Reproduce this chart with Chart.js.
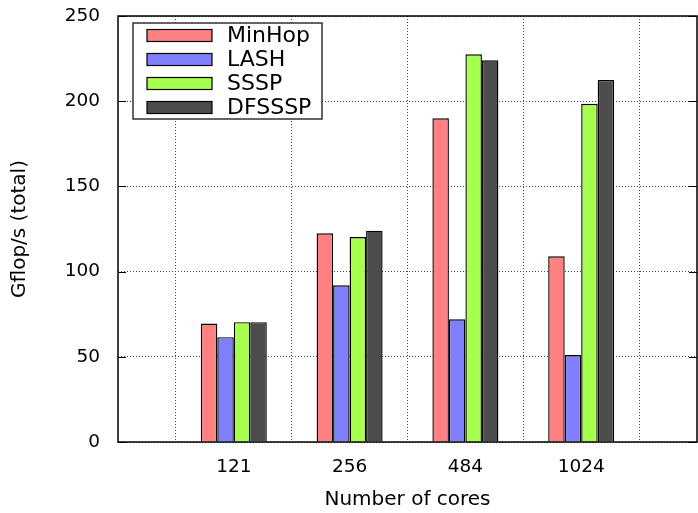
<!DOCTYPE html>
<html>
<head>
<meta charset="utf-8">
<title>Gflop/s by number of cores</title>
<script src="https://cdn.jsdelivr.net/npm/chart.js@4.4.0/dist/chart.umd.min.js"></script>
<style>
    html, body { margin: 0; padding: 0; background: #fff; }
    #wrap { width: 698px; height: 513px; }
</style>
</head>
<body>
<div id="wrap"><canvas id="chart" width="698" height="513"></canvas></div>
<script>
// Data
const cores = ['121', '256', '484', '1024'];
const seriesNames = ['MinHop', 'LASH', 'SSSP', 'DFSSSP'];
const minHop = [69.5, 122.5, 190, 109];
const lash = [61.5, 92, 72, 51];
const sssp = [70.3, 120.3, 227.5, 198.5];
const dfsssp = [70.3, 124, 224, 212.5];
const yTicks = [0, 50, 100, 150, 200, 250];

const colors = ['#ff8080', '#8080ff', '#a6ff4c', '#4d4d4d'];
const FONT = "'DejaVu Sans', sans-serif";

// empty slot on each side, like the gnuplot x range
const labels = [''].concat(cores, ['']);
const pad = arr => [null].concat(arr, [null]);

const datasets = [minHop, lash, sssp, dfsssp].map((vals, i) => ({
    label: seriesNames[i],
    data: pad(vals),
    backgroundColor: colors[i],
    borderColor: '#000',
    borderWidth: 1.4,
    barPercentage: 1,
    categoryPercentage: 0.57
}));

// Frame + inner tick marks
const framePlugin = {
    id: 'frame',
    afterDatasetsDraw(chart) {
        const { ctx, chartArea: a, scales } = chart;
        ctx.save();
        ctx.strokeStyle = '#000';
        ctx.lineWidth = 1.5;
        ctx.strokeRect(a.left, a.top, a.right - a.left, a.bottom - a.top);
        ctx.lineWidth = 1;
        yTicks.forEach(v => {
            const y = Math.round(scales.y.getPixelForValue(v)) + 0.5;
            ctx.beginPath();
            ctx.moveTo(a.left, y); ctx.lineTo(a.left + 8, y);
            ctx.moveTo(a.right, y); ctx.lineTo(a.right - 8, y);
            ctx.stroke();
        });
        ctx.restore();
    }
};

// Legend box inside the plot, top left
const legendPlugin = {
    id: 'boxLegend',
    afterDraw(chart) {
        const { ctx, chartArea: a } = chart;
        const x0 = a.left + 15, y0 = a.top + 7, w = 189, h = 96;
        ctx.save();
        ctx.fillStyle = '#fff';
        ctx.fillRect(x0, y0, w, h);
        ctx.strokeStyle = '#333';
        ctx.lineWidth = 1.5;
        ctx.strokeRect(x0, y0, w, h);
        ctx.font = '22px ' + FONT;
        ctx.textBaseline = 'middle';
        chart.data.datasets.forEach((ds, i) => {
            const cy = a.top + 19.5 + i * 24;
            ctx.fillStyle = ds.backgroundColor;
            ctx.fillRect(x0 + 14, cy - 6, 65, 12);
            ctx.strokeStyle = '#000';
            ctx.lineWidth = 1.2;
            ctx.strokeRect(x0 + 14, cy - 6, 65, 12);
            ctx.fillStyle = '#000';
            ctx.fillText(ds.label, x0 + 94, cy + 1);
        });
        ctx.restore();
    }
};

const gridStyle = {
    color: '#444',
    lineWidth: 1,
    drawTicks: false
};

new Chart(document.getElementById('chart'), {
    type: 'bar',
    data: { labels: labels, datasets: datasets },
    options: {
        responsive: false,
        devicePixelRatio: 1,
        animation: false,
        layout: { padding: { top: 16, right: 1, left: 0, bottom: 0 } },
        plugins: {
            legend: { display: false },
            tooltip: { enabled: false }
        },
        scales: {
            x: {
                offset: false,
                grid: gridStyle,
                border: { display: false, dash: [1, 2] },
                ticks: {
                    color: '#000',
                    font: { family: FONT, size: 18.5 },
                    padding: 14,
                    maxRotation: 0,
                    autoSkip: false
                },
                title: {
                    display: true,
                    text: 'Number of cores',
                    color: '#000',
                    font: { family: FONT, size: 20, lineHeight: 1.2 },
                    padding: { top: 0, bottom: 1 }
                },
                afterFit: s => {
                    s.height = 71;
                    s.paddingLeft = 0;
                    s.paddingRight = 0;
                }
            },
            y: {
                min: 0,
                max: 250,
                grid: gridStyle,
                border: { display: false, dash: [1, 2] },
                afterBuildTicks: s => { s.ticks = yTicks.map(v => ({ value: v })); },
                ticks: {
                    color: '#000',
                    font: { family: FONT, size: 18.5 },
                    padding: 18
                },
                title: {
                    display: true,
                    text: 'Gflop/s (total)',
                    color: '#000',
                    font: { family: FONT, size: 20, lineHeight: 1.2 },
                    padding: { top: 8, bottom: 0 }
                },
                afterFit: s => {
                    s.width = 118;
                    s.paddingTop = 0;
                    s.paddingBottom = 0;
                }
            }
        }
    },
    plugins: [framePlugin, legendPlugin]
});
</script>
</body>
</html>
